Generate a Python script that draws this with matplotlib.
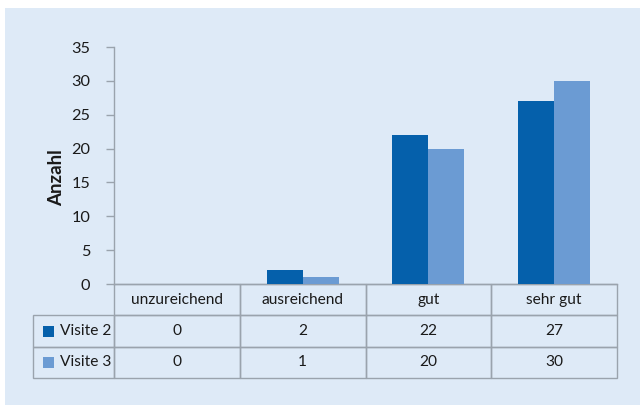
import matplotlib.pyplot as plt
from matplotlib.patches import Rectangle
import numpy as np

plt.rcParams['font.family'] = ['Lato', 'DejaVu Sans']

# Bewertung je Kategorie, Visite 2 und Visite 3
categories = ['unzureichend', 'ausreichend', 'gut', 'sehr gut']
series_names = ['Visite 2', 'Visite 3']
visite2 = [0, 2, 22, 27]
visite3 = [0, 1, 20, 30]
yticks = [0, 5, 10, 15, 20, 25, 30, 35]

bg = '#deeaf7'
dark = '#0560ab'
light = '#6b9bd3'
line_col = '#9aa3ad'
colors = [dark, light]
fs = 11.2

fig = plt.figure(figsize=(6.4, 4.05), dpi=100)
fig.patch.set_facecolor('white')
# blue panel behind everything (white strip top/left)
fig.patches.append(Rectangle((5/640, 0), 1, 1 - 8/405, transform=fig.transFigure,
                             facecolor=bg, edgecolor='none', zorder=-10))

ax = fig.add_axes([114/640, 1 - 284/405, 503/640, 237/405])
ax.patch.set_alpha(0)

x = np.arange(len(categories))
w = 0.286
for i, vals in enumerate([visite2, visite3]):
    ax.bar(x + (i - 0.5) * w, vals, width=w, color=colors[i], zorder=3)

ax.set_xlim(-0.5, len(categories) - 0.5)
ax.set_ylim(0, 35)
ax.set_yticks(yticks)
ax.set_xticks([])
ax.tick_params(axis='y', length=6, width=1, color=line_col, labelsize=fs + 0.5,
               pad=11, labelcolor='#1a1a1a')
for s in ['top', 'right']:
    ax.spines[s].set_visible(False)
for s in ['left', 'bottom']:
    ax.spines[s].set_color(line_col)
    ax.spines[s].set_linewidth(1)

fig.text(57/640, 1 - 178/405, 'Anzahl', rotation=90, ha='center', va='center',
         fontsize=13.5, fontweight='bold', color='#1a1a1a')

# data table below the axis
cell_text = [[str(v) for v in visite2], [str(v) for v in visite3]]
row_labels = ['      ' + n for n in series_names]
tab_h = 94 / 237
tbl = ax.table(cellText=cell_text, rowLabels=row_labels, colLabels=categories,
               cellLoc='center', rowLoc='left', colWidths=[0.25] * 4,
               bbox=[0, -tab_h, 1, tab_h])
tbl.auto_set_font_size(False)
tbl.set_fontsize(fs)
for (r, c), cell in tbl.get_celld().items():
    cell.set_edgecolor(line_col)
    cell.set_facecolor('none')
    cell.set_linewidth(1)
    cell.get_text().set_color('#1a1a1a')
    cell.PAD = 0.04
    if c == -1:
        cell.set_width(78/503)

# legend squares in the row labels
row_h = tab_h / 3
for i, col in enumerate(colors):
    yc = -row_h * (1.5 + i)
    ax.add_patch(Rectangle(((43 - 114) / 503, yc - 5.5/237), 11/503, 11/237,
                           transform=ax.transAxes, facecolor=col,
                           edgecolor='none', clip_on=False, zorder=5))

fig.savefig('out.png', dpi=100, facecolor=fig.get_facecolor())
